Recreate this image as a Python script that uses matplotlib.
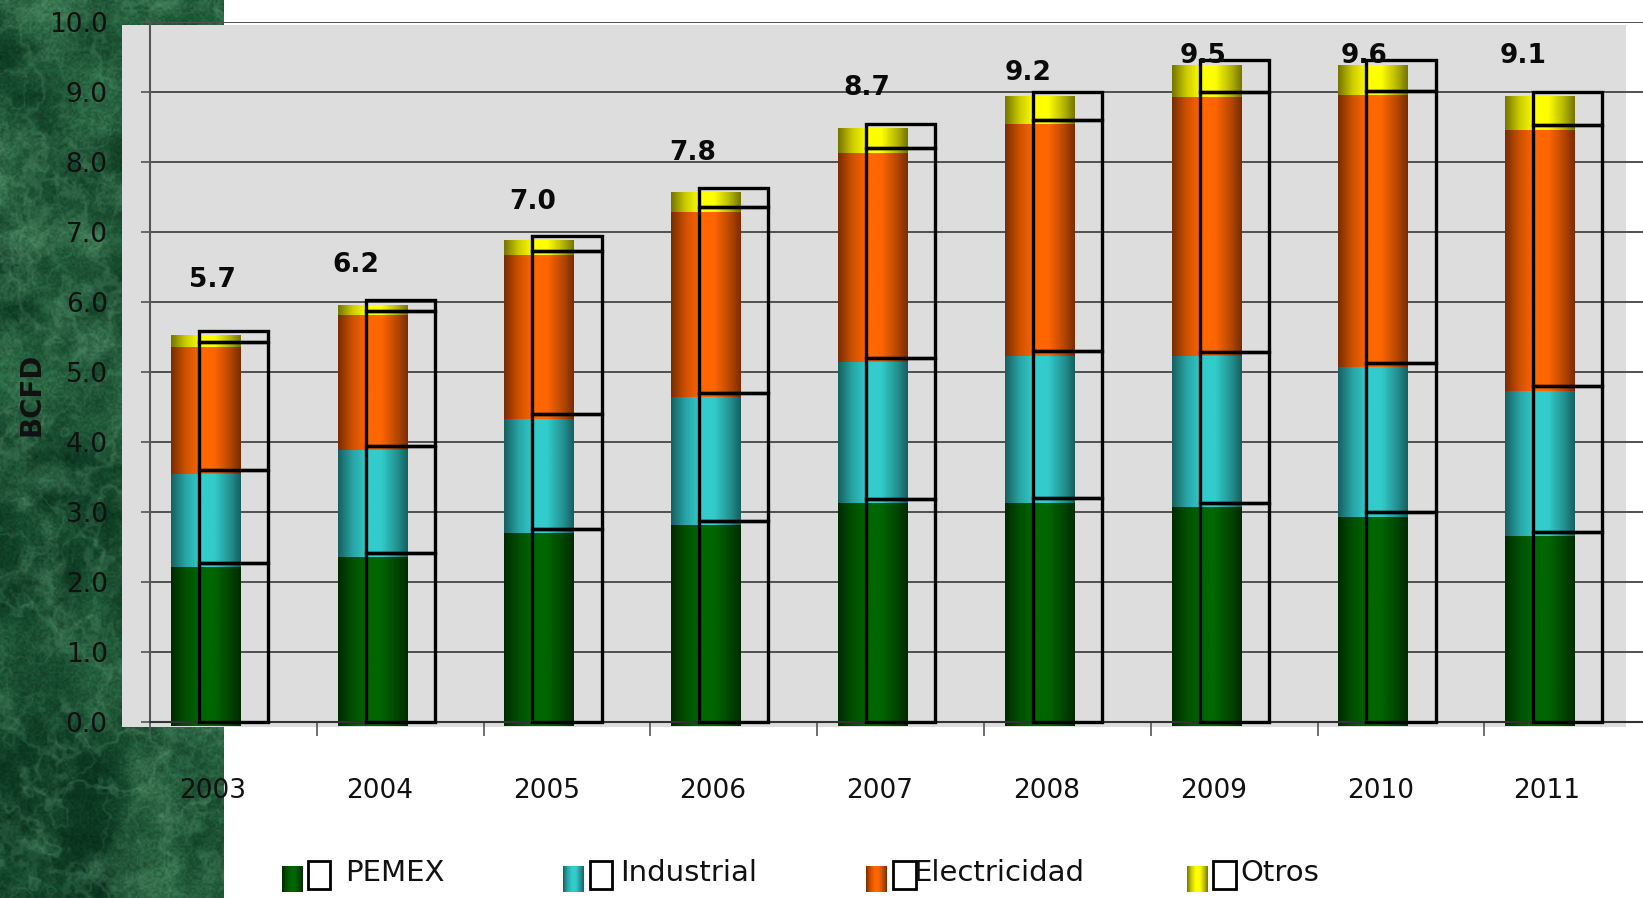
import numpy as np
import matplotlib
matplotlib.use("Agg")
import matplotlib.pyplot as plt
from matplotlib.patches import Rectangle
from matplotlib.colors import to_rgb

# ---------------- data (BCFD) ----------------
years = ["2003", "2004", "2005", "2006", "2007", "2008", "2009", "2010", "2011"]
pemex = [2.27, 2.41, 2.76, 2.87, 3.18, 3.19, 3.13, 2.99, 2.71]
industrial = [1.33, 1.53, 1.63, 1.83, 2.02, 2.10, 2.15, 2.14, 2.08]
electricidad = [1.82, 1.93, 2.34, 2.65, 2.99, 3.31, 3.71, 3.88, 3.73]
otros = [0.16, 0.15, 0.21, 0.28, 0.35, 0.40, 0.46, 0.44, 0.48]
total_labels = ["5.7", "6.2", "7.0", "7.8", "8.7", "9.2", "9.5", "9.6", "9.1"]
series_names = ["PEMEX", "Industrial", "Electricidad", "Otros"]
y_ticks = [0.0, 1.0, 2.0, 3.0, 4.0, 5.0, 6.0, 7.0, 8.0, 9.0, 10.0]

# ---------------- layout / style ----------------
W, H = 1643, 898
dark_cols = ["#002a00", "#176060", "#7a2d00", "#767600"]
bright_cols = ["#006600", "#33cccc", "#ff6600", "#ffff00"]
FILL_SHIFT, FILL_W, FILL_DROP = -0.168, 0.414, -0.062
BOX_SHIFT, BOX_W = 0.0, 0.414
XLAB_SHIFT = -0.124
label_dx = [-0.128, -0.266, -0.207, -0.248, -0.203, -0.237, -0.184, -0.222, -0.269]
label_base = [6.21, 6.43, 7.33, 8.02, 8.95, 9.17, 9.41, 9.41, 9.41]


def fig_box(x0, y0, x1, y1):
    return [x0 / W, 1 - y1 / H, (x1 - x0) / W, (y1 - y0) / H]


def cylinder(dark, bright, n=80):
    t = np.linspace(0, 1, n)
    k = np.interp(t, [0.0, 0.2, 0.42, 0.62, 0.85, 1.0],
                  [0.0, 0.62, 1.0, 1.0, 0.45, 0.0])
    d = np.array(to_rgb(dark))
    b = np.array(to_rgb(bright))
    row = d[None, :] * (1 - k[:, None]) + b[None, :] * k[:, None]
    return row[None, :, :]


def smooth_noise(h, w, cell, rng):
    gh, gw = h // cell + 2, w // cell + 2
    g = rng.random((gh, gw))
    ys = np.arange(h) / cell
    xs = np.arange(w) / cell
    y0 = ys.astype(int)
    x0 = xs.astype(int)
    fy = ys - y0
    fx = xs - x0
    fy = fy * fy * (3 - 2 * fy)
    fx = fx * fx * (3 - 2 * fx)
    a = g[y0][:, x0]
    b = g[y0][:, x0 + 1]
    c = g[y0 + 1][:, x0]
    d = g[y0 + 1][:, x0 + 1]
    top = a * (1 - fx) + b * fx
    bot = c * (1 - fx) + d * fx
    return top * (1 - fy[:, None]) + bot * fy[:, None]


def fbm(h, w, rng, cells=(96, 48, 24, 12, 6, 3)):
    out = np.zeros((h, w))
    amp, tot = 1.0, 0.0
    for c in cells:
        out += amp * smooth_noise(h, w, c, rng)
        tot += amp
        amp *= 0.6
    out /= tot
    return (out - out.min()) / (out.max() - out.min())


def marble(h, w):
    rng = np.random.default_rng(7)
    base = fbm(h, w, rng)
    cloud = fbm(h, w, rng, cells=(48, 24, 12, 6, 3))
    v1 = fbm(h, w, rng, cells=(64, 32, 16, 8, 4))
    v2 = fbm(h, w, rng, cells=(40, 20, 10, 5))
    grain = smooth_noise(h, w, 2, rng)
    vein = np.exp(-((v1 - 0.5) / 0.04) ** 2) * 0.45 + np.exp(-((v2 - 0.45) / 0.03) ** 2) * 0.3
    vein = np.clip(vein, 0, 1)
    dark = np.array([0.04, 0.21, 0.12])
    mid = np.array([0.16, 0.40, 0.26])
    light = np.array([0.36, 0.60, 0.45])
    t = np.clip(base * 1.4 - 0.2, 0, 1)[..., None]
    img = dark * (1 - t) + mid * t
    c = np.clip((cloud - 0.55) * 2.2, 0, 1)[..., None]
    img = img + (light - img) * c * 0.55
    img = img * (0.85 + 0.3 * grain[..., None])
    img = img + (light - img) * (vein[..., None] * 0.6)
    return np.clip(img, 0, 1)


fig = plt.figure(figsize=(W / 100, H / 100), dpi=100, facecolor="white")

# marble strip on the left
ax_m = fig.add_axes(fig_box(0, 0, 224, H), zorder=-3)
ax_m.imshow(marble(H, 224), aspect="auto", interpolation="bilinear")
ax_m.axis("off")

# grey plot panel
fig.add_artist(Rectangle((122 / W, 1 - 727 / H), (1626 - 122) / W, (727 - 25) / H,
                         transform=fig.transFigure, facecolor="#dddddd",
                         edgecolor="none", zorder=-2))

# main chart axes: y=0 at 721.7 px, y=10 at 21.7 px, category width 166.8 px
ax = fig.add_axes(fig_box(150, 21.7, W, 721.7), zorder=0)
ax.set_facecolor("none")
xmax = -0.5 + (W - 150) / 166.8

x = np.arange(len(years))
bottom = np.zeros(len(years))
for vals, dc, bc in zip([pemex, industrial, electricidad, otros], dark_cols, bright_cols):
    vals = np.array(vals)
    grad = cylinder(dc, bc)
    bars = ax.bar(x + FILL_SHIFT, vals, width=FILL_W, bottom=bottom + FILL_DROP,
                  color=dc, linewidth=0, zorder=2, clip_on=False)
    for p in bars:
        bx, by, bw, bh = p.get_x(), p.get_y(), p.get_width(), p.get_height()
        im = ax.imshow(grad, extent=[bx, bx + bw, by, by + bh], aspect="auto",
                       interpolation="bilinear", zorder=2.1)
        im.set_clip_path(p)
    ax.bar(x + BOX_SHIFT, vals, width=BOX_W, bottom=bottom, fill=False,
           edgecolor="black", linewidth=2.4, zorder=4, clip_on=False)
    bottom = bottom + vals

# total labels
for i, lab in enumerate(total_labels):
    ax.text(i + label_dx[i], label_base[i], lab, ha="center", va="baseline",
            fontsize=19, fontweight="bold", color="#0a0a0a", zorder=6, clip_on=False)

# year labels
for i, yr in enumerate(years):
    ax.text(i + XLAB_SHIFT, -76.3 / 70, yr, ha="center", va="baseline",
            fontsize=19, color="#111111", clip_on=False)

ax.set_xlim(-0.5, xmax)
ax.set_ylim(0, 10)
ax.set_yticks(y_ticks)
ax.set_yticklabels([f"{v:.1f}" for v in y_ticks])
ax.set_xticks(np.arange(-0.5, 8.0, 1.0))
ax.set_xticklabels([])
ax.tick_params(axis="y", length=6.5, width=1.2, color="#555555", pad=24,
               labelsize=19, labelcolor="#111111")
ax.tick_params(axis="x", length=10, width=1.2, color="#555555", direction="out")
ax.yaxis.grid(True, color="#505050", linewidth=1.4)
ax.set_axisbelow(True)
for s in ["top", "right"]:
    ax.spines[s].set_visible(False)
ax.spines["left"].set_color("#555555")
ax.spines["left"].set_linewidth(1.5)
ax.spines["bottom"].set_color("#333333")
ax.spines["bottom"].set_linewidth(1.5)

fig.text(31 / W, 1 - 394.5 / H, "BCFD", rotation=90, ha="center", va="center",
         fontsize=20, fontweight="bold", color="#111111")

# legend
sw_left = [281.6, 562.9, 866.0, 1187.0]
sq_left = [307.5, 589.5, 893.0, 1213.0]
tx_left = [344.7, 620.4, 913.0, 1240.0]
for name, dc, bc, sx, qx, tx in zip(series_names, dark_cols, bright_cols, sw_left, sq_left, tx_left):
    sax = fig.add_axes(fig_box(sx, 866, sx + 20.5, 891.7))
    sax.imshow(cylinder(dc, bc), aspect="auto", interpolation="bilinear")
    sax.axis("off")
    fig.add_artist(Rectangle((qx / W, 1 - 889 / H), 22.5 / W, 28.3 / H,
                             transform=fig.transFigure, fill=False,
                             edgecolor="black", linewidth=2.0))
    fig.text(tx / W, 1 - 881 / H, name, ha="left", va="baseline",
             fontsize=21, color="#111111")

fig.savefig("out.png", dpi=100, facecolor="white")
